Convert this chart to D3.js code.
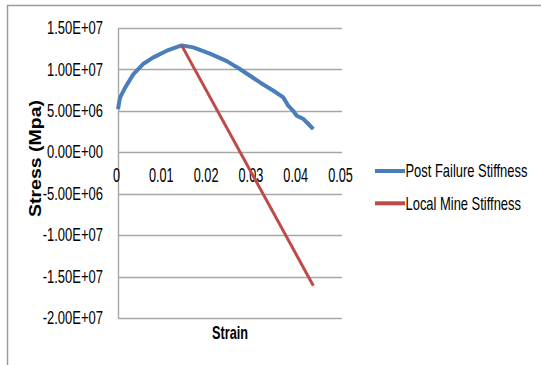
<!DOCTYPE html>
<html><head><meta charset="utf-8">
<script src="https://cdn.jsdelivr.net/npm/d3@7"></script>
<style>
html,body{margin:0;padding:0;background:#fff;}
svg{display:block;}
text{font-family:"Liberation Sans",Arial,sans-serif;}
</style></head>
<body>
<script>
const postStrain = [0, 0.00045, 0.0016, 0.0034, 0.0056, 0.0079, 0.0109, 0.0142, 0.0168, 0.0205, 0.0243, 0.0272, 0.0317, 0.0347, 0.0369, 0.038, 0.0391, 0.0399, 0.0414, 0.0425, 0.0436];
const postStress = [5.2e6, 6.6e6, 7.8e6, 9.4e6, 1.065e7, 1.145e7, 1.226e7, 1.29e7, 1.266e7, 1.19e7, 1.1e7, 1.005e7, 8.43e6, 7.43e6, 6.62e6, 5.62e6, 5.01e6, 4.41e6, 4.01e6, 3.41e6, 2.8e6];
const mineStrain = [0.0142, 0.0436];
const mineStress = [1.29e7, -1.61e7];
const xTicks = [0, 0.01, 0.02, 0.03, 0.04, 0.05];
const xTickLabels = ["0", "0.01", "0.02", "0.03", "0.04", "0.05"];
const yTicks = [1.5e7, 1.0e7, 5e6, 0, -5e6, -1.0e7, -1.5e7, -2.0e7];
const yTickLabels = ["1.50E+07", "1.00E+07", "5.00E+06", "0.00E+00", "-5.00E+06", "-1.00E+07", "-1.50E+07", "-2.00E+07"];
const seriesNames = ["Post Failure Stiffness", "Local Mine Stiffness"];
const seriesColors = ["#4a7ebb", "#be4b48"];

const W = 541, H = 365;
const svg = d3.select("body").append("svg").attr("width", W).attr("height", H);

// squeeze a text horizontally around its x position (narrow-font look)
function squeeze(sel, f) {
  sel.each(function () {
    const t = d3.select(this);
    const x0 = +t.attr("x") || 0;
    t.attr("x", x0 / f).attr("transform", `scale(${f},1)`);
  });
}

// outer frame (top and left edges visible)
svg.append("line").attr("x1", 7).attr("x2", W).attr("y1", 5.5).attr("y2", 5.5).attr("stroke", "#9a9a9a").attr("stroke-width", 1.5);
svg.append("line").attr("x1", 7.5).attr("x2", 7.5).attr("y1", 5).attr("y2", H).attr("stroke", "#9a9a9a").attr("stroke-width", 1.5);

const x = d3.scaleLinear().domain([0, 0.05]).range([118, 342]);
const y = d3.scaleLinear().domain([-2.0e7, 1.5e7]).range([318, 28]);

// gridlines
svg.append("g").selectAll("line").data(yTicks).join("line")
  .attr("x1", x(0)).attr("x2", x(0.05))
  .attr("y1", d => Math.round(y(d)) + 0.5).attr("y2", d => Math.round(y(d)) + 0.5)
  .attr("stroke", "#a6a6a6").attr("stroke-width", 1.4);

// y axis
const yAxis = d3.axisLeft(y).tickValues(yTicks).tickSize(0).tickPadding(15)
  .tickFormat((d, i) => yTickLabels[i]);
const gy = svg.append("g").attr("transform", `translate(${x(0)},0)`).call(yAxis);
gy.select(".domain").attr("stroke", "#a6a6a6").attr("stroke-width", 1.4);
const yt = gy.selectAll("text").attr("font-size", 17.5).attr("fill", "#000")
  .attr("font-family", '"Liberation Sans",Arial,sans-serif');
squeeze(yt, 56 / yt.filter((d, i) => i === 0).node().getComputedTextLength());

// x axis labels below the zero line
const xAxis = d3.axisBottom(x).tickValues(xTicks).tickSize(0).tickPadding(3)
  .tickFormat((d, i) => xTickLabels[i]);
const gx = svg.append("g").attr("transform", `translate(0,${y(0)})`).call(xAxis);
gx.select(".domain").remove();
const xt = gx.selectAll("text").attr("font-size", 19.5).attr("fill", "#000")
  .attr("dy", null).attr("y", 30).attr("x", -2)
  .attr("font-family", '"Liberation Sans",Arial,sans-serif');
squeeze(xt, 24.7 / xt.filter((d, i) => i === 1).node().getComputedTextLength());

// lines
const line = d3.line().x(d => x(d[0])).y(d => y(d[1]));
const post = postStrain.map((v, i) => [v, postStress[i]]);
const mine = mineStrain.map((v, i) => [v, mineStress[i]]);
svg.append("path").datum(post).attr("d", line).attr("fill", "none")
  .attr("stroke", seriesColors[0]).attr("stroke-width", 4).attr("stroke-linejoin", "round");
svg.append("path").datum(mine).attr("d", line).attr("fill", "none")
  .attr("stroke", seriesColors[1]).attr("stroke-width", 3);

// axis titles
const st = svg.append("g").attr("transform", "translate(230,339)").append("text")
  .attr("text-anchor", "middle").attr("font-size", 18).attr("font-weight", "bold").text("Strain");
squeeze(st, 36 / st.node().getComputedTextLength());
svg.append("text").attr("transform", "translate(41,158.5) rotate(-90)").attr("text-anchor", "middle")
  .attr("font-size", 17).attr("font-weight", "bold")
  .attr("textLength", 117).attr("lengthAdjust", "spacingAndGlyphs").text("Stress (Mpa)");

// legend
const leg = svg.append("g");
const legTexts = [];
seriesNames.forEach((n, i) => {
  const yy = 171 + i * 32.3;
  leg.append("line").attr("x1", 375).attr("x2", 405).attr("y1", yy).attr("y2", yy)
    .attr("stroke", seriesColors[i]).attr("stroke-width", 4);
  const t = leg.append("g").attr("transform", `translate(405.5,${yy})`).append("text")
    .attr("dy", "0.35em").attr("font-size", 18.5).attr("fill", "#000").text(n);
  legTexts.push(t);
});
const f0 = 122 / legTexts[0].node().getComputedTextLength();
legTexts.forEach(t => squeeze(t, f0));
</script>
</body></html>
